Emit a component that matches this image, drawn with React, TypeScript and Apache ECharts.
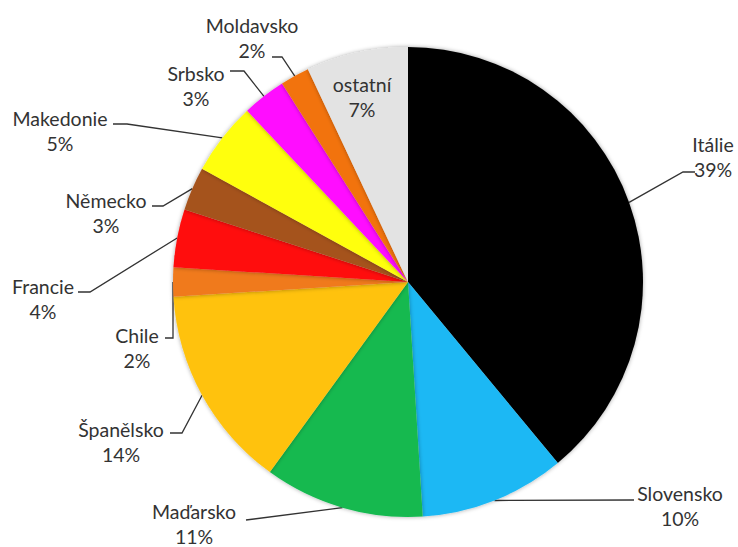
import React, { useEffect, useRef } from "react";
import * as echarts from "echarts";

const countries = [
  "Itálie",
  "Slovensko",
  "Maďarsko",
  "Španělsko",
  "Chile",
  "Francie",
  "Německo",
  "Makedonie",
  "Srbsko",
  "Moldavsko",
  "ostatní",
];
const shares = [39, 10, 11, 14, 2, 4, 3, 5, 3, 2, 7];
const colors = [
  "#000000",
  "#1cb8f4",
  "#13b950",
  "#ffc20a",
  "#f07a1e",
  "#ff0a0a",
  "#a5521c",
  "#ffff10",
  "#ff10ff",
  "#f2730f",
  "#e3e3e3",
];

// label block centres and leader line bends (layout only)
const labelPos: [number, number][] = [
  [713, 157],
  [680, 506],
  [194, 524],
  [121, 442],
  [137, 348],
  [43, 299],
  [106, 213],
  [60, 131],
  [196, 86],
  [252, 38],
  [362, 97],
];
const lineBends: ([number, number][] | null)[] = [
  [[683, 172], [695, 172]],
  [[634, 500]],
  [[246, 520]],
  [[182, 433], [170, 433]],
  [[173, 338], [165, 338]],
  [[90, 292], [78, 292]],
  [[163, 206], [152, 206]],
  [[127, 124], [113, 124]],
  [[244, 71], [230, 71]],
  [[282, 57], [272, 57]],
  null,
];

export default function App() {
  const ref = useRef<HTMLDivElement>(null);
  useEffect(() => {
    document.body.style.margin = "0";
    const chart = echarts.init(ref.current!, null, { renderer: "svg" });
    const data = countries.map((name, i) => ({
      name,
      value: shares[i],
      itemStyle: { color: colors[i] },
      labelLine: { show: lineBends[i] !== null },
    }));
    chart.setOption({
      animation: false,
      backgroundColor: "#ffffff",
      series: [
        {
          type: "pie",
          center: [408, 282],
          radius: [0, 235],
          startAngle: 90,
          clockwise: true,
          avoidLabelOverlap: false,
          data,
          itemStyle: {
            shadowBlur: 4,
            shadowColor: "rgba(0,0,0,0.35)",
          },
          label: {
            show: true,
            position: "outside",
            formatter: (p: any) => `${p.name}\n${p.value}%`,
            fontFamily: "Lato",
            fontSize: 19.5,
            lineHeight: 25,
            color: "#333333",
            align: "center",
          },
          labelLine: {
            show: true,
            lineStyle: { color: "#333333", width: 1.3 },
          },
          labelLayout: (params: any) => {
            const i = params.dataIndex;
            const [x, y] = labelPos[i];
            const res: any = { x, y, align: "center", verticalAlign: "middle" };
            const bends = lineBends[i];
            if (bends && params.labelLinePoints) {
              res.labelLinePoints = [params.labelLinePoints[0], ...bends];
            }
            return res;
          },
        },
      ],
    });
    return () => chart.dispose();
  }, []);
  return <div ref={ref} style={{ width: 738, height: 547 }} />;
}
